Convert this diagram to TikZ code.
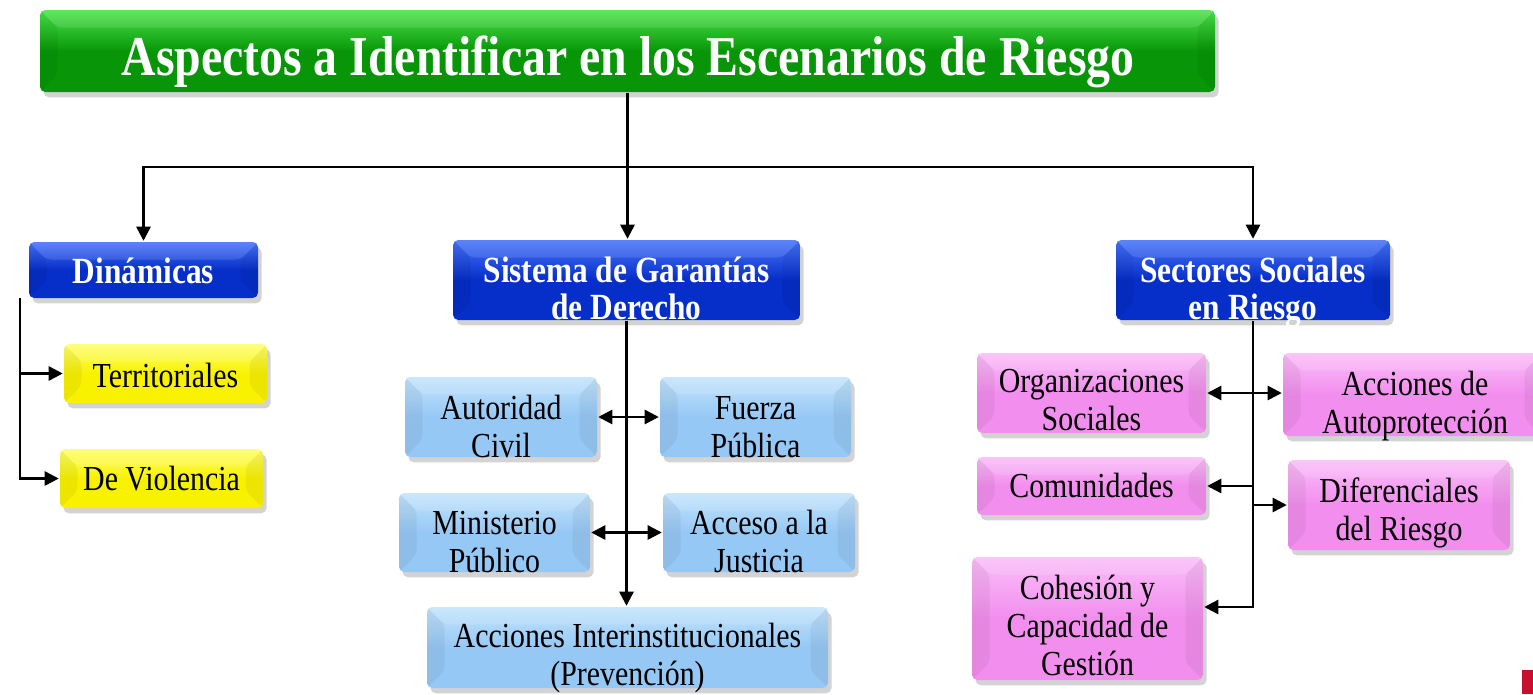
\documentclass[tikz,border=0pt]{standalone}
\usepackage{fontspec}
\setmainfont[FakeStretch=0.85]{Liberation Serif}
\usetikzlibrary{arrows.meta,shadows}

\definecolor{titlegreen}{RGB}{8,150,8}
\definecolor{titlegreenhi}{RGB}{75,228,75}
\definecolor{headblue}{RGB}{6,46,200}
\definecolor{headbluehi}{RGB}{70,115,250}
\definecolor{dinyellow}{RGB}{248,242,0}
\definecolor{dinyellowhi}{RGB}{255,255,110}
\definecolor{sisblue}{RGB}{150,200,245}
\definecolor{sisbluehi}{RGB}{195,228,252}
\definecolor{secpink}{RGB}{242,142,238}
\definecolor{secpinkhi}{RGB}{250,190,248}
\definecolor{cornerred}{RGB}{200,16,46}

\tikzset{
  box/.style={rounded corners=3pt, inner sep=0pt,
    drop shadow={opacity=.35, shadow xshift=2pt, shadow yshift=-3pt},
    path picture={
      \fill[black, opacity=.05] (path picture bounding box.north west) -- ([shift={(0.35,-0.35)}]path picture bounding box.north west)
        -- ([shift={(0.35,0.35)}]path picture bounding box.south west) -- (path picture bounding box.south west) -- cycle;
      \fill[black, opacity=.05] (path picture bounding box.north east) -- ([shift={(-0.35,-0.35)}]path picture bounding box.north east)
        -- ([shift={(-0.35,0.35)}]path picture bounding box.south east) -- (path picture bounding box.south east) -- cycle;
      \fill[white, opacity=.12] (path picture bounding box.north west) -- ([shift={(0.35,-0.35)}]path picture bounding box.north west)
        -- ([shift={(-0.35,-0.35)}]path picture bounding box.north east) -- (path picture bounding box.north east) -- cycle;
    }},
  titlebox/.style={box, top color=titlegreenhi, bottom color=titlegreen, middle color=titlegreen},
  headbox/.style={box, top color=headbluehi, bottom color=headblue, middle color=headblue},
  dinbox/.style={box, top color=dinyellowhi, bottom color=dinyellow, middle color=dinyellow},
  sisbox/.style={box, top color=sisbluehi, bottom color=sisblue, middle color=sisblue},
  secbox/.style={box, top color=secpinkhi, bottom color=secpink, middle color=secpink},
  titletxt/.style={anchor=base, text=white, font=\bfseries\fontsize{32}{36}\selectfont},
  headtxt/.style={anchor=base, text=white, align=center, font=\bfseries\fontsize{21}{21}\selectfont},
  bodytxt/.style={anchor=base, align=center, font=\fontsize{20}{21.5}\selectfont},
}

\begin{document}
\begin{tikzpicture}[line width=1.4pt, >={Triangle[length=8pt,width=8pt]}]
\useasboundingbox (0,0) rectangle (30.66,-13.88);

% title
\node (title) at (12.55,-1.02) [titlebox, minimum width=23.5cm, minimum height=1.64cm]{};
\node (title-t) at (12.56,-1.50) [titletxt]{Aspectos a Identificar en los Escenarios de Riesgo};

% main branches
\node (din) at (2.87,-5.4) [headbox, minimum width=4.58cm, minimum height=1.12cm]{};
\node (din-t) at (2.87,-5.66) [headtxt]{Dinámicas};

\node (sis) at (12.53,-5.6) [headbox, minimum width=6.94cm, minimum height=1.6cm]{};
\node (sis-t) at (12.53,-6.38) [headtxt]{Sistema de Garantías\\de Derecho};

\node (sec) at (25.06,-5.6) [headbox, minimum width=5.48cm, minimum height=1.6cm]{};
\node (sec-t) at (25.06,-6.38) [headtxt]{Sectores Sociales\\en Riesgo};

% Dinamicas
\node (terr) at (3.31,-7.47) [dinbox, minimum width=4.06cm, minimum height=1.18cm]{};
\node (terr-t) at (3.31,-7.74) [bodytxt]{Territoriales};

\node (viol) at (3.23,-9.57) [dinbox, minimum width=4.06cm, minimum height=1.18cm]{};
\node (viol-t) at (3.23,-9.80) [bodytxt]{De Violencia};

% Sistema de Garantias
\node (aut) at (10.02,-8.34) [sisbox, minimum width=3.84cm, minimum height=1.6cm]{};
\node (aut-t) at (10.02,-9.14) [bodytxt]{Autoridad\\Civil};

\node (fue) at (15.11,-8.34) [sisbox, minimum width=3.82cm, minimum height=1.6cm]{};
\node (fue-t) at (15.11,-9.14) [bodytxt]{Fuerza\\Pública};

\node (min) at (9.89,-10.65) [sisbox, minimum width=3.82cm, minimum height=1.58cm]{};
\node (min-t) at (9.89,-11.44) [bodytxt]{Ministerio\\Público};

\node (acc) at (15.18,-10.65) [sisbox, minimum width=3.84cm, minimum height=1.58cm]{};
\node (acc-t) at (15.18,-11.44) [bodytxt]{Acceso a la\\Justicia};

\node (inter) at (12.55,-12.95) [sisbox, minimum width=8.02cm, minimum height=1.62cm]{};
\node (inter-t) at (12.55,-13.70) [bodytxt]{Acciones Interinstitucionales\\(Prevención)};

% Sectores Sociales
\node (org) at (21.83,-7.86) [secbox, minimum width=4.58cm, minimum height=1.6cm]{};
\node (org-t) at (21.83,-8.60) [bodytxt]{Organizaciones\\Sociales};

\node (auto) at (28.25,-7.89) [secbox, minimum width=5.18cm, minimum height=1.66cm]{};
\node (auto-t) at (28.30,-8.66) [bodytxt]{Acciones de\\Autoprotección};

\node (com) at (21.83,-9.72) [secbox, minimum width=4.58cm, minimum height=1.16cm]{};
\node (com-t) at (21.83,-9.94) [bodytxt]{Comunidades};

\node (dif) at (27.98,-10.1) [secbox, minimum width=4.44cm, minimum height=1.8cm]{};
\node (dif-t) at (27.98,-10.80) [bodytxt]{Diferenciales\\del Riesgo};

\node (coh) at (21.75,-12.37) [secbox, minimum width=4.62cm, minimum height=2.46cm]{};
\node (coh-t) at (21.75,-13.50) [bodytxt]{Cohesión y\\Capacidad de\\Gestión};

% connectors
\coordinate (bus) at (12.56,-3.34);
\coordinate (dinL) at (0.4,-5.96);
\coordinate (secB) at (25.06,-12.14);

\draw [->] (title.south) -- (title.south |- sis.north);
\draw [->] (bus) -| (din.north);
\draw [->] (bus) -| (sec.north);

\draw [->] (dinL) |- (terr.west);
\draw [->] (dinL) |- (viol.west);

\draw [->] (sis.south) -- (sis.south |- inter.north);
\draw [<->] (aut.east) -- (fue.west);
\draw [<->] (min.east) -- (acc.west);

\draw [->] (sec.south) -- (secB) -- (secB -| coh.east);
\draw [<->] (org.east) -- (org.east -| auto.west);
\draw [->] (sec.south |- com.east) -- (com.east);
\draw [->] (sec.south |- dif.west) -- (dif.west);

\fill [cornerred] (30.44,-13.4) rectangle (30.66,-13.88);

\end{tikzpicture}
\end{document}
